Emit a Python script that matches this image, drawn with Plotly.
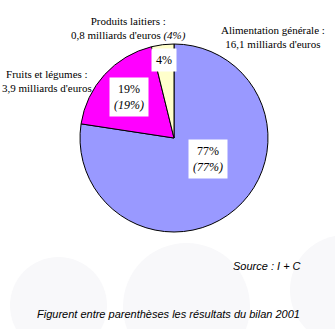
import math
import plotly.graph_objects as go

categories = ["Alimentation générale", "Fruits et légumes", "Produits laitiers"]
values = [16.1, 3.9, 0.8]
pct_2002 = [77, 19, 4]
pct_2001 = [77, 19, 4]
colors = ["#9999FF", "#FF00FF", "#FFFFCC"]

W, H = 335, 329
cx, cy, R = 174, 138, 94  # pie centre and radius in pixels

fig = go.Figure()
fig.add_trace(go.Pie(
    labels=categories, values=values, sort=False, direction="clockwise",
    rotation=0, textinfo="none", hoverinfo="label+value+percent",
    marker=dict(colors=colors, line=dict(color="#000000", width=1)),
    domain=dict(x=[(cx - R) / W, (cx + R) / W], y=[(H - cy - R) / H, (H - cy + R) / H]),
    showlegend=False,
))

# inside labels with white boxes, positioned near each slice's mid-angle
label_r = [0.42, 0.65, 0.84]
label_shift_deg = [-18, 0, 0]
total = sum(values)
acc = 0.0
for i, v in enumerate(values):
    mid = (acc + v / 2) / total * 2 * math.pi + math.radians(label_shift_deg[i])
    acc += v
    px = cx + label_r[i] * R * math.sin(mid)
    py = cy - label_r[i] * R * math.cos(mid)
    txt = f"{pct_2002[i]}%" if i == 2 else f"{pct_2002[i]}%<br><i>({pct_2001[i]}%)</i>"
    fig.add_annotation(x=px / W, y=1 - py / H, xref="paper", yref="paper", text=txt,
                       xanchor="center", yanchor="middle",
                       showarrow=False, bgcolor="#FFFFFF", borderpad=4,
                       font=dict(family="Liberation Serif", size=12, color="#000000"))

outer = [
    (273, 37, "Alimentation générale :<br>16,1 milliards d'euros"),
    (47, 81, "Fruits et légumes :<br>3,9 milliards d'euros"),
    (128, 28, "Produits laitiers :<br>0,8 milliards d'euros <i>(4%)</i>"),
]
for x, y, t in outer:
    fig.add_annotation(x=x / W, y=1 - y / H, xref="paper", yref="paper", text=t,
                       xanchor="center", yanchor="middle",
                       showarrow=False, align="center",
                       font=dict(family="Liberation Serif", size=11, color="#000000"))

fig.add_annotation(x=267 / W, y=1 - 266 / H, xref="paper", yref="paper", text="<i>Source : I + C</i>",
                   xanchor="center", yanchor="middle",
                   showarrow=False, font=dict(family="Liberation Sans", size=11, color="#000000"))
fig.add_annotation(x=168 / W, y=1 - 314 / H, xref="paper", yref="paper",
                   text="<i>Figurent entre parenthèses les résultats du bilan 2001</i>",
                   xanchor="center", yanchor="middle",
                   showarrow=False, font=dict(family="Liberation Sans", size=11, color="#000000"))

# faint background circles
for (x0, y0, x1, y1) in [(10, 257, 107, 354), (123, 243, 250, 370), (290, 235, 400, 345)]:
    fig.add_shape(type="circle", xref="paper", yref="paper", layer="below",
                  x0=x0 / W, x1=x1 / W, y0=1 - y1 / H, y1=1 - y0 / H,
                  fillcolor="#F8F8FA", line=dict(width=0))

fig.update_layout(width=W, height=H, margin=dict(l=0, r=0, t=0, b=0),
                  paper_bgcolor="#FFFFFF", plot_bgcolor="#FFFFFF")
fig.write_html("out.html")
